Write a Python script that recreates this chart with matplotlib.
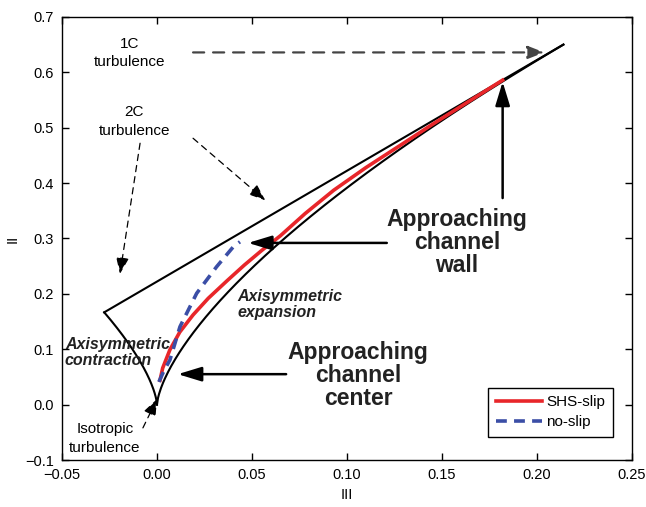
import numpy as np
import matplotlib.pyplot as plt

plt.rcParams['font.family'] = ['Liberation Sans', 'DejaVu Sans']

# anisotropy invariant map (III, II) for the two cases
shs_iii = [0.0016, 0.003, 0.0068, 0.012, 0.019, 0.027, 0.037, 0.046, 0.055, 0.065,
           0.078, 0.093, 0.110, 0.128, 0.145, 0.163, 0.182]
shs_ii = [0.044, 0.066, 0.099, 0.131, 0.162, 0.192, 0.224, 0.252, 0.278, 0.305,
          0.345, 0.387, 0.428, 0.468, 0.506, 0.545, 0.586]

noslip_iii = [0.001, 0.0035, 0.0068, 0.0121, 0.0209, 0.0314, 0.0402, 0.0437]
noslip_ii = [0.041, 0.060, 0.0805, 0.1406, 0.201, 0.249, 0.285, 0.294]

# Lumley triangle corners (III): 2C-axisymmetric, isotropic, end of 1C side
iii_left, iii_iso, iii_end = -1.0 / 36, 0.0, 0.214


def axisym(iii):
    return 1.5 * (4.0 / 3.0 * np.abs(iii)) ** (2.0 / 3.0)


def two_comp(iii):
    return 2.0 / 9.0 + 2.0 * iii


fig = plt.figure(figsize=(6.46, 5.07), dpi=100)
ax = fig.add_axes([0.096, 0.0927, 0.882, 0.8738])

# triangle boundaries
t_left = np.linspace(iii_left, iii_iso, 200)
t_right = np.linspace(iii_iso, iii_end, 400)
ax.plot(t_left, axisym(t_left), color='black', lw=1.5)
ax.plot(t_right, axisym(t_right), color='black', lw=1.5)
t_top = np.array([iii_left, iii_end])
ax.plot(t_top, two_comp(t_top), color='black', lw=1.5)

ax.plot(shs_iii, shs_ii, color='#e8262a', lw=2.6, label='SHS-slip', zorder=3)
ax.plot(noslip_iii, noslip_ii, color='#3b4ea6', lw=2.6, ls=(0, (3, 2)),
        label='no-slip', zorder=4)


def arrow(x0, y0, x1, y1, lw=1.8, ls='-', color='black', hl=0.72, hw=0.22, ms=20):
    ax.annotate('', xy=(x1, y1), xytext=(x0, y0),
                arrowprops=dict(arrowstyle='-|>,head_length=%g,head_width=%g' % (hl, hw),
                                lw=lw, ls=ls, color=color, mutation_scale=ms,
                                shrinkA=0, shrinkB=0))


# solid annotation arrows
arrow(0.182, 0.373, 0.182, 0.583)
arrow(0.121, 0.292, 0.048, 0.292)
arrow(0.068, 0.055, 0.011, 0.055)

# dashed pointer arrows
arrow(0.019, 0.636, 0.204, 0.636, lw=1.6, ls=(0, (5, 4)), color='#444444',
      ms=14, hw=0.28)
arrow(0.019, 0.481, 0.057, 0.369, lw=0.9, ls=(0, (5, 4)), ms=14, hw=0.28)
arrow(-0.0089, 0.472, -0.0195, 0.236, lw=0.9, ls=(0, (5, 4)), ms=14, hw=0.28)
arrow(-0.0074, -0.042, 0.0, 0.010, lw=0.9, ls=(0, (5, 4)), ms=14, hw=0.28)

fs = 11
ax.text(-0.0142, 0.652, '1C', ha='center', va='center', fontsize=fs)
ax.text(-0.0142, 0.618, 'turbulence', ha='center', va='center', fontsize=fs)
ax.text(-0.012, 0.528, '2C', ha='center', va='center', fontsize=fs)
ax.text(-0.012, 0.495, 'turbulence', ha='center', va='center', fontsize=fs)
ax.text(-0.0274, -0.044, 'Isotropic', ha='center', va='center', fontsize=fs)
ax.text(-0.0274, -0.078, 'turbulence', ha='center', va='center', fontsize=fs)

ax.text(0.0425, 0.181, 'Axisymmetric\nexpansion', ha='left', va='center',
        fontsize=11.5, fontweight='bold', style='italic', linespacing=1.1,
        color='#222222')
ax.text(-0.0485, 0.094, 'Axisymmetric\ncontraction', ha='left', va='center',
        fontsize=11.5, fontweight='bold', style='italic', linespacing=1.1,
        color='#222222')

ax.text(0.158, 0.292, 'Approaching\nchannel\nwall', ha='center', va='center',
        fontsize=16.5, fontweight='bold', linespacing=1.0, color='#222222')
ax.text(0.106, 0.052, 'Approaching\nchannel\ncenter', ha='center', va='center',
        fontsize=16.5, fontweight='bold', linespacing=1.0, color='#222222')

ax.set_xlim(-0.05, 0.25)
ax.set_ylim(-0.1, 0.7)
ax.set_xticks(np.arange(-0.05, 0.2501, 0.05))
ax.set_yticks(np.arange(-0.1, 0.7001, 0.1))
ax.set_xticklabels(['\u22120.05', '0.00', '0.05', '0.10', '0.15', '0.20', '0.25'])
ax.set_yticklabels(['\u22120.1', '0.0', '0.1', '0.2', '0.3', '0.4', '0.5', '0.6', '0.7'])
ax.tick_params(direction='in', top=True, right=True, length=5, width=1,
               labelsize=10.5, pad=6)
for s in ax.spines.values():
    s.set_linewidth(1.0)

ax.set_xlabel('III', fontsize=10.5)
ax.set_ylabel('II', fontsize=10.5)

leg = ax.legend(loc='lower right', bbox_to_anchor=(0.967, 0.052), borderaxespad=0,
                fontsize=11, handlelength=3.0, fancybox=False, framealpha=1,
                edgecolor='black', handletextpad=0.3, borderpad=0.5,
                labelspacing=0.4)
leg.get_frame().set_linewidth(1.0)

fig.savefig('out.png', dpi=100)
